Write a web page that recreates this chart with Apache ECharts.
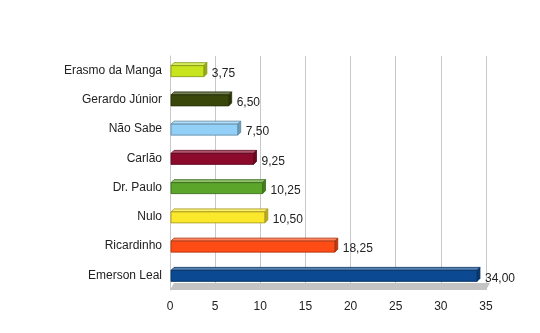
<!DOCTYPE html>
<html><head><meta charset="utf-8">
<script src="https://cdn.jsdelivr.net/npm/echarts@6/dist/echarts.min.js"></script>
<style>html,body{margin:0;padding:0;background:#fff}#c{width:540px;height:333px}</style>
</head><body><div id="c"></div>
<script>
const categories = ['Emerson Leal','Ricardinho','Nulo','Dr. Paulo','Carlão','Não Sabe','Gerardo Júnior','Erasmo da Manga'];
const values = [34.00, 18.25, 10.50, 10.25, 9.25, 7.50, 6.50, 3.75];
const colors = ['#0b4a92','#ff4c14','#fbe72c','#5aa52a','#8c0b2c','#92d0f8','#39470b','#c8e41c'];
const ticks = [0,5,10,15,20,25,30,35];

function shade(hex, f){
  const n=parseInt(hex.slice(1),16);let r=n>>16,g=(n>>8)&255,b=n&255;
  if(f<0){r=r*(1+f);g=g*(1+f);b=b*(1+f);}else{r=r+(255-r)*f;g=g+(255-g)*f;b=b+(255-b)*f;}
  return 'rgb('+Math.round(r)+','+Math.round(g)+','+Math.round(b)+')';
}

const chart = echarts.init(document.getElementById('c'));
chart.setOption({
  animation:false,
  grid:{left:170,right:54,top:56,bottom:43},
  xAxis:{type:'value',min:0,max:35,interval:5,
    axisLine:{show:false},axisTick:{show:false},
    splitLine:{lineStyle:{color:'#c8c8c8',width:1}},
    axisLabel:{color:'#222',fontSize:12,fontFamily:'Liberation Sans, Arial, sans-serif',margin:11,
      formatter:v=>ticks.indexOf(v)>=0?String(v):''}},
  yAxis:{type:'category',data:categories,
    axisLine:{show:true,lineStyle:{color:'#c8c8c8'}},axisTick:{show:false},
    axisLabel:{color:'#222',fontSize:12,fontFamily:'Liberation Sans, Arial, sans-serif',margin:8}},
  series:[
  {type:'custom',silent:true,z:1,data:[[0]],
    renderItem:function(params,api){
      const cs=params.coordSys;
      const x0=cs.x, x1=cs.x+cs.width, yb=cs.y+cs.height;
      return {type:'polygon',shape:{points:[[x0+4,yb-7],[x1+4,yb-7],[x1,yb],[x0,yb]]},
        style:{fill:'#c4c4c4'}};
    }},
  {type:'custom',z:2,
    data:values.map((v,i)=>[v,i]),
    renderItem:function(params,api){
      const i=params.dataIndex, v=api.value(0);
      const p0=api.coord([0,api.value(1)]), p1=api.coord([v,api.value(1)]);
      const x0=p0[0]+1, x1=p1[0], yc=p0[1];
      const d=3, top=yc-5, bot=yc+6;
      const c=colors[i];
      const stroke=shade(c,-0.35);
      return {type:'group',children:[
        {type:'polygon',shape:{points:[[x0,top],[x0+d,top-d],[x1+d,top-d],[x1,top]]},
          style:{fill:shade(c,0.3),stroke:stroke,lineWidth:0.8}},
        {type:'polygon',shape:{points:[[x1,top],[x1+d,top-d],[x1+d,bot-d],[x1,bot]]},
          style:{fill:shade(c,-0.25),stroke:stroke,lineWidth:0.8}},
        {type:'rect',shape:{x:x0,y:top,width:x1-x0,height:bot-top},
          style:{fill:c,stroke:stroke,lineWidth:0.8}},
        {type:'text',x:x1+8,y:yc+3,style:{text:v.toFixed(2).replace('.',','),
          fill:'#222',fontSize:12,fontFamily:'Liberation Sans, Arial, sans-serif',
          verticalAlign:'middle',align:'left'}}
      ]};
    }}
  ]
});
</script></body></html>
